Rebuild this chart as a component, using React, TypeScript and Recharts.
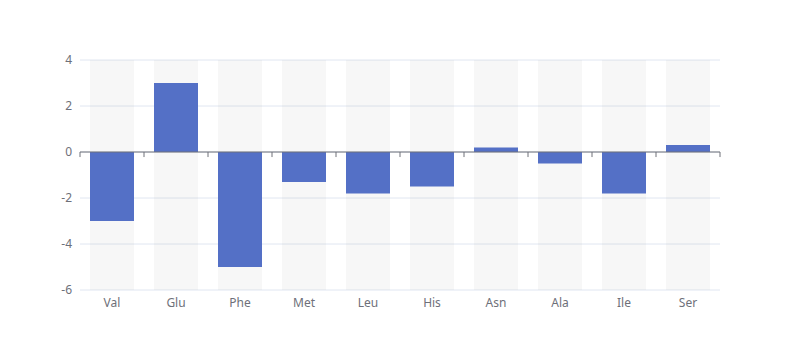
import { BarChart, Bar, CartesianGrid, XAxis, YAxis, ReferenceLine } from "recharts";

const categories = ["Val", "Glu", "Phe", "Met", "Leu", "His", "Asn", "Ala", "Ile", "Ser"];
const values = [-3, 3, -5, -1.3, -1.8, -1.5, 0.2, -0.5, -1.8, 0.3];
const yTicks = [-6, -4, -2, 0, 2, 4];

const data = categories.map((name, i) => ({ name, value: values[i] }));

const axisColor = "#6E7079";
const tickDepth = -0.22;

const App = () => {
  return (
    <div style={{ position: "absolute", left: 0, top: 0, width: 800, height: 360, background: "#fff" }}>
      <BarChart
        width={800}
        height={360}
        data={data}
        margin={{ top: 60, right: 80, bottom: 0, left: 0 }}
        style={{ fontFamily: "'Noto Sans', sans-serif" }}
      >
        <CartesianGrid horizontal vertical={false} stroke="#E0E6F1" />
        <XAxis
          dataKey="name"
          axisLine={false}
          tickLine={false}
          height={70}
          tick={{ fill: axisColor, fontSize: 12 }}
          interval={0}
        />
        <YAxis
          width={80}
          domain={[-6, 4]}
          ticks={yTicks}
          axisLine={false}
          tickLine={false}
          tick={{ fill: axisColor, fontSize: 12 }}
        />
        <Bar
          dataKey="value"
          fill="#5470C6"
          barSize={44}
          background={{ fill: "rgba(180,180,180,0.1)" }}
          isAnimationActive={false}
        />
        <ReferenceLine y={0} stroke={axisColor} strokeWidth={1} />
        {categories.map((c) => (
          <ReferenceLine
            key={c}
            position="start"
            segment={[
              { x: c, y: 0 },
              { x: c, y: tickDepth },
            ]}
            stroke={axisColor}
          />
        ))}
        <ReferenceLine
          position="end"
          segment={[
            { x: categories[categories.length - 1], y: 0 },
            { x: categories[categories.length - 1], y: tickDepth },
          ]}
          stroke={axisColor}
        />
      </BarChart>
    </div>
  );
};

export default App;
